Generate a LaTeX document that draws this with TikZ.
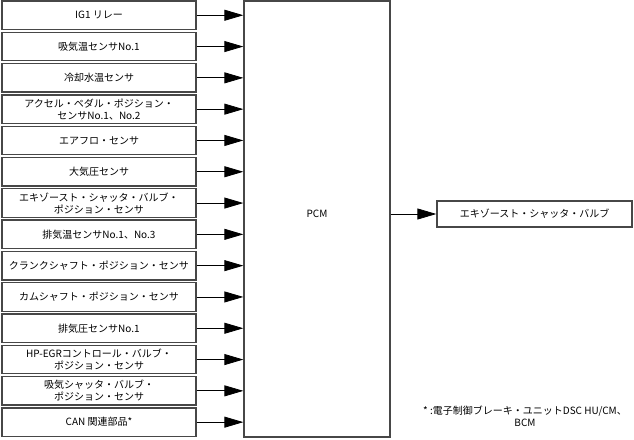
\documentclass[tikz,border=0pt]{standalone}
\usepackage{fontspec}
\setmainfont{Noto Sans CJK JP}
\usetikzlibrary{arrows.meta}
\begin{document}
\begin{tikzpicture}[x=1pt,y=-1pt,
  boxline/.style={draw=black!72, line width=1.3pt},
  inbox/.style={boxline, minimum width=194pt, minimum height=28.5pt, inner sep=0pt, align=center, font=\fontsize{10}{12}\selectfont},
  conn/.style={line width=0.8pt, -{Triangle[length=19pt,width=11pt]}},
  lbl/.style={font=\fontsize{10}{12}\selectfont, align=center}]
\useasboundingbox (0,0) rectangle (634,439);
\node[boxline, minimum width=146pt, minimum height=436pt, inner sep=0pt] (pcm) at (317,219) {};
\node[lbl] (pcmlbl) at (317,214) {PCM};
\foreach \i/\t in {
  1/{IG1 リレー},
  2/{吸気温センサNo.1},
  3/{冷却水温センサ},
  4/{アクセル・ペダル・ポジション・\\センサNo.1、No.2},
  5/{エアフロ・センサ},
  6/{大気圧センサ},
  7/{エキゾースト・シャッタ・バルブ・\\ポジション・センサ},
  8/{排気温センサNo.1、No.3},
  9/{クランクシャフト・ポジション・センサ},
  10/{カムシャフト・ポジション・センサ},
  11/{排気圧センサNo.1},
  12/{HP-EGRコントロール・バルブ・\\ポジション・センサ},
  13/{吸気シャッタ・バルブ・\\ポジション・センサ},
  14/{CAN 関連部品*}} {
  \node[inbox] (b\i) at (99,{15.25+31.3*(\i-1)}) {\t};
  \draw[conn] (b\i.east) -- (pcm.west |- b\i.east);
}
\node[boxline, minimum width=195pt, minimum height=26pt, inner sep=0pt, font=\fontsize{10}{12}\selectfont] (out) at (534.5,214) {エキゾースト・シャッタ・バルブ};
\draw[conn] (pcm.east |- out.west) -- (out.west);
\node[lbl] (note) at (525,416) {* :電子制御ブレーキ・ユニットDSC HU/CM、\\BCM};
\end{tikzpicture}
\end{document}
